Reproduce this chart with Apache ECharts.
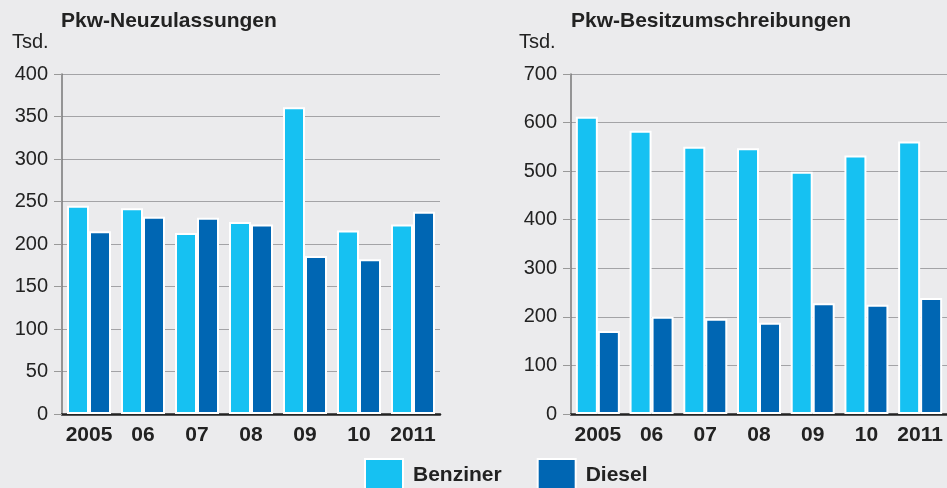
<!DOCTYPE html>
<html>
<head>
<meta charset="utf-8">
<script src="https://cdn.jsdelivr.net/npm/echarts@6/dist/echarts.min.js"></script>
<style>
  html, body { margin: 0; padding: 0; background: #ebebed; }
  #chart { width: 947px; height: 488px; }
</style>
</head>
<body>
<div id="chart"></div>
<script>
  // Jahre (x-Achse)
  var years = ['2005', '06', '07', '08', '09', '10', '2011']
  // Pkw-Neuzulassungen, Tsd.
  var neuBenziner = [245, 242, 213, 226, 361, 216, 223]
  var neuDiesel = [215, 232, 231, 223, 186, 182, 238]
  // Pkw-Besitzumschreibungen, Tsd.
  var besBenziner = [612, 583, 550, 547, 499, 532, 561]
  var besDiesel = [171, 200, 196, 188, 228, 225, 239]
  // Achsen
  var leftMax = 400, leftStep = 50
  var rightMax = 700, rightStep = 100

  var colBenz = '#16c1f2'
  var colDiesel = '#0066b3'
  var font = '"Liberation Sans", Arial, Helvetica, sans-serif'

  var myChart = echarts.init(document.getElementById('chart'))

  function xAxis(idx){
    return {
      type: 'category',
      gridIndex: idx,
      data: years,
      axisLine: { lineStyle: { color: '#222', width: 2.5 } },
      axisTick: { show: false },
      axisLabel: { interval: 0, color: '#222', fontSize: 21, fontWeight: 'bold', fontFamily: font, margin: 11 }
    }
  }
  function yAxis(idx, max, step){
    return {
      type: 'value',
      gridIndex: idx,
      min: 0,
      max: max,
      interval: step,
      axisLine: { show: true, lineStyle: { color: '#777', width: 1.5 } },
      axisTick: { show: true, length: 8, lineStyle: { color: '#999' } },
      axisLabel: { color: '#222', fontSize: 20, fontFamily: font, margin: 14 },
      splitLine: { lineStyle: { color: '#a3a3a6', width: 1.2 } }
    }
  }
  function bar(name, idx, data, color){
    return {
      name: name,
      type: 'bar',
      xAxisIndex: idx,
      yAxisIndex: idx,
      data: data,
      barWidth: 22,
      barGap: '0%',
      itemStyle: { color: color, borderColor: '#fff', borderWidth: 2 },
      emphasis: { disabled: true }
    }
  }

  var option = {
    backgroundColor: '#ebebed',
    animation: false,
    title: [
      { text: 'Pkw-Neuzulassungen', left: 56, top: 6, textStyle: { fontSize: 21, fontWeight: 'bold', color: '#222', fontFamily: font } },
      { text: 'Tsd.', left: 7, top: 27, textStyle: { fontSize: 20, fontWeight: 'normal', color: '#222', fontFamily: font } },
      { text: 'Pkw-Besitzumschreibungen', left: 566, top: 6, textStyle: { fontSize: 21, fontWeight: 'bold', color: '#222', fontFamily: font } },
      { text: 'Tsd.', left: 514, top: 27, textStyle: { fontSize: 20, fontWeight: 'normal', color: '#222', fontFamily: font } }
    ],
    legend: {
      left: 364,
      top: 458,
      padding: 0,
      itemWidth: 38,
      itemHeight: 32,
      itemGap: 35,
      icon: 'rect',
      selectedMode: false,
      textStyle: { fontSize: 21, fontWeight: 'bold', color: '#222', fontFamily: font, padding: [2, 0, 0, 5] },
      data: [
        { name: 'Benziner' },
        { name: 'Diesel', textStyle: { padding: [0, 0, 5, 5] } }
      ]
    },
    grid: [
      { left: 62, top: 74, width: 378, height: 340 },
      { left: 571, top: 74, width: 376, height: 340 }
    ],
    xAxis: [xAxis(0), xAxis(1)],
    yAxis: [yAxis(0, leftMax, leftStep), yAxis(1, rightMax, rightStep)],
    series: [
      bar('Benziner', 0, neuBenziner, colBenz),
      bar('Diesel', 0, neuDiesel, colDiesel),
      bar('Benziner', 1, besBenziner, colBenz),
      bar('Diesel', 1, besDiesel, colDiesel)
    ]
  }

  myChart.setOption(option)
</script>
</body>
</html>
